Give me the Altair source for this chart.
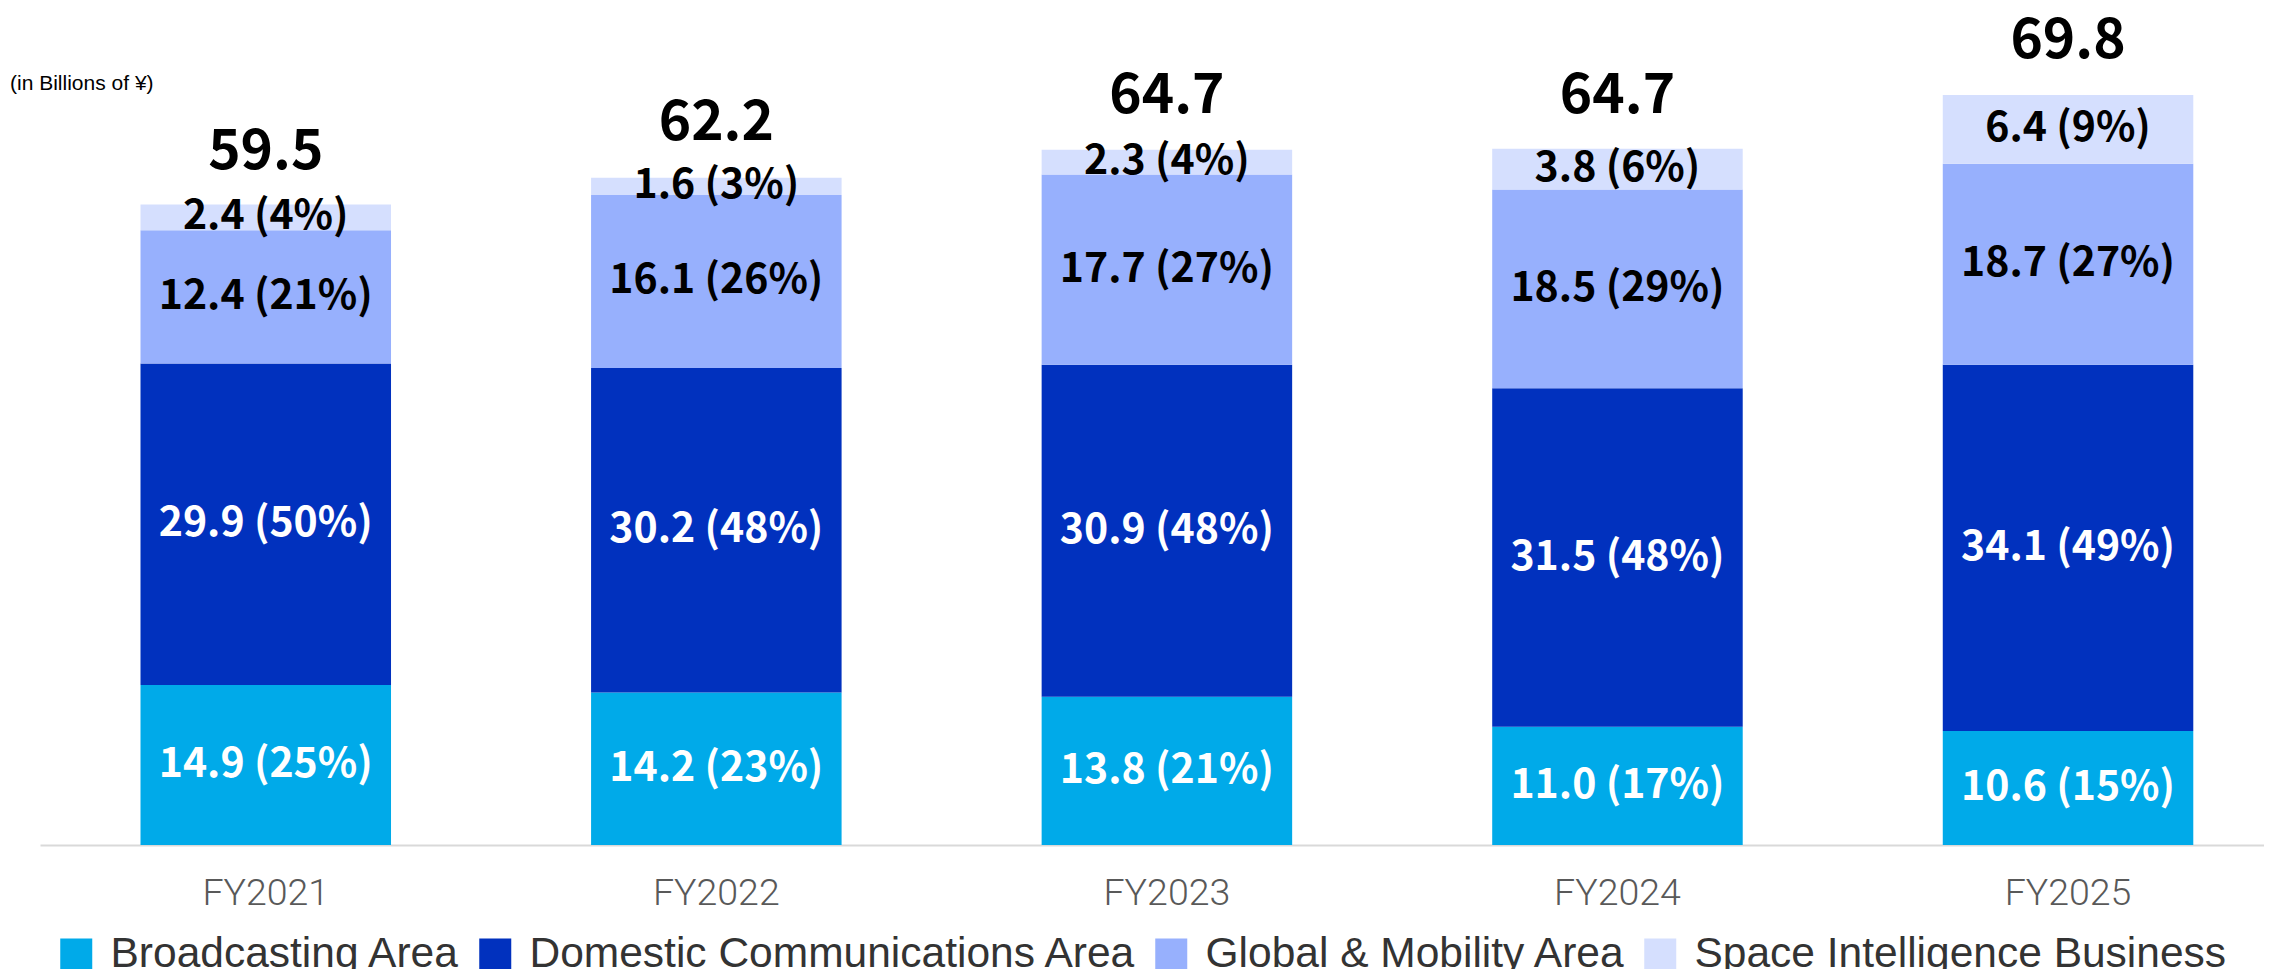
import altair as alt
import pandas as pd

years = ["FY2021", "FY2022", "FY2023", "FY2024", "FY2025"]
segments = [
    "Broadcasting Area",
    "Domestic Communications Area",
    "Global & Mobility Area",
    "Space Intelligence Business",
]
broadcasting = [14.9, 14.2, 13.8, 11.0, 10.6]
broadcasting_pct = [25, 23, 21, 17, 15]
domestic = [29.9, 30.2, 30.9, 31.5, 34.1]
domestic_pct = [50, 48, 48, 48, 49]
global_mobility = [12.4, 16.1, 17.7, 18.5, 18.7]
global_mobility_pct = [21, 26, 27, 29, 27]
space = [2.4, 1.6, 2.3, 3.8, 6.4]
space_pct = [4, 3, 4, 6, 9]
totals = [59.5, 62.2, 64.7, 64.7, 69.8]
colors = ["#00AAE9", "#0131BE", "#97B0FD", "#D5DFFE"]

rows = []
for si, (name, vals, pcts) in enumerate(zip(
        segments,
        [broadcasting, domestic, global_mobility, space],
        [broadcasting_pct, domestic_pct, global_mobility_pct, space_pct])):
    for yr, v, p in zip(years, vals, pcts):
        rows.append({"year": yr, "segment": name, "idx": si, "value": v,
                     "label": f"{v:.1f} ({p}%)"})
df = pd.DataFrame(rows)
tot = pd.DataFrame({"year": years, "total": totals,
                    "label": [f"{t:.1f}" for t in totals]})

xscale = alt.Scale(paddingInner=0.444, paddingOuter=0.19, align=0.587)
yscale = alt.Scale(domain=[0, 77.8], nice=False, zero=True)
X = alt.X("year:N", sort=years, scale=xscale,
          axis=alt.Axis(title=None, labelAngle=0, ticks=False, grid=False,
                        domainColor="#D9D9D9", domainWidth=2,
                        labelFontSize=37.5, labelFont="Roboto", labelFontWeight=300,
                        labelColor="#595959", labelPadding=29))

base = alt.Chart(df).transform_stack(
    stack="value", groupby=["year"], as_=["v0", "v1"],
    sort=[alt.SortField("idx", order="ascending")]
).transform_calculate(mid="(datum.v0 + datum.v1) / 2")

bars = base.mark_bar().encode(
    x=X,
    y=alt.Y("v0:Q", scale=yscale, axis=None),
    y2="v1:Q",
    color=alt.Color("segment:N", scale=alt.Scale(domain=segments, range=colors),
                    legend=alt.Legend(orient="none", legendX=15, legendY=924,
                                      direction="horizontal", title=None,
                                      symbolType="square", symbolSize=1024,
                                      symbolStrokeWidth=0, labelFontSize=42.5,
                                      labelFont="Liberation Sans",
                                      labelColor="#333333", labelOffset=13,
                                      columnPadding=13, padding=0,
                                      labelLimit=1000)),
)

seg_labels = base.mark_text(font="Noto Sans CJK JP", fontSize=41,
                            fontWeight="bold", baseline="middle").encode(
    x=X,
    y=alt.Y("mid:Q", scale=yscale, axis=None),
    text="label:N",
    color=alt.condition("datum.idx < 2", alt.value("white"), alt.value("black")),
)

total_labels = alt.Chart(tot).mark_text(font="Noto Sans CJK JP", fontSize=55,
                                        fontWeight="bold", baseline="alphabetic",
                                        dy=-37, color="black").encode(
    x=X,
    y=alt.Y("total:Q", scale=yscale, axis=None),
    text="label:N",
)

unit = alt.Chart(pd.DataFrame({"t": ["(in Billions of ¥)"]})).mark_text(
    align="left", baseline="middle", fontSize=21, font="Liberation Sans",
    color="black").encode(x=alt.value(-30), y=alt.value(75), text="t:N")

chart = alt.layer(bars, seg_labels, total_labels, unit).properties(
    width=2224, height=836,
    padding={"left": 32, "top": 1, "right": 0, "bottom": 124},
    autosize=alt.AutoSizeParams(type="none"),
).configure_view(stroke=None)

chart.save("out.html", embed_options={"renderer": "svg", "actions": False})
